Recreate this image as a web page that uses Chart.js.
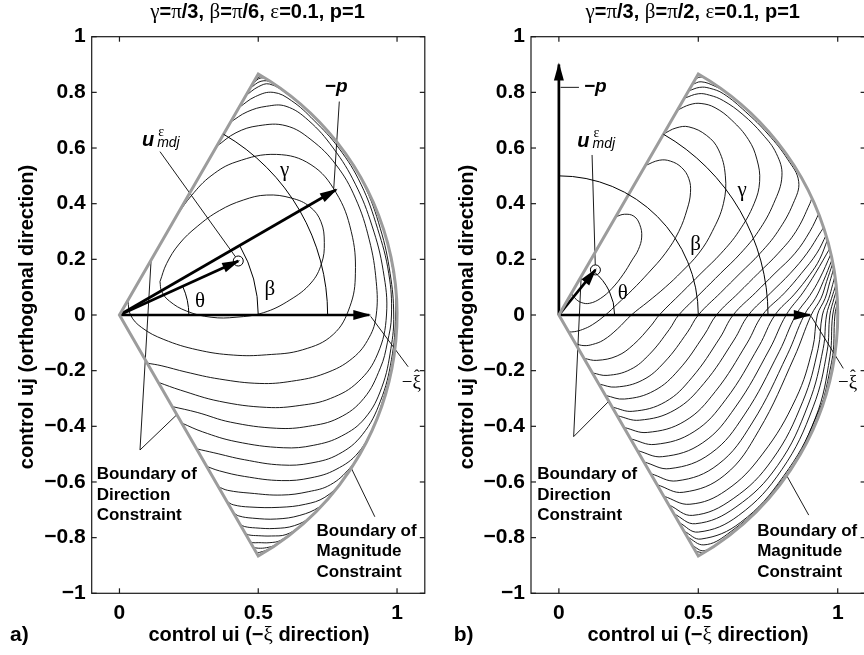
<!DOCTYPE html>
<html>
<head>
<meta charset="utf-8">
<title>Direction and magnitude constrained control</title>
<script src="https://cdn.jsdelivr.net/npm/chart.js@4.4.0/dist/chart.umd.min.js"></script>
<style>
  html, body { margin: 0; padding: 0; background: #fff; overflow: hidden; }
  #figure { position: relative; width: 864px; height: 655px; overflow: hidden; background: #fff; }
  #figure canvas { position: absolute; top: 0; }
</style>
</head>
<body>
<div id="figure">
  <canvas id="panelA" width="432" height="655" style="left:0"></canvas>
  <canvas id="panelB" width="440" height="655" style="left:432px"></canvas>
</div>
<script>
// ---- axes ----
const xTicks = [0, 0.5, 1];
const yTicks = [-1, -0.8, -0.6, -0.4, -0.2, 0, 0.2, 0.4, 0.6, 0.8, 1];
const xRange = [-0.1, 1.1];
const yRange = [-1, 1];

// feasible set: |angle| <= gamma, |u| <= uMax
const gammaDeg = 60;
const uMax = 1;

// ---- panel a: beta = pi/6 ----
const titleA = 'γ=π/3, β=π/6, ε=0.1, p=1';
const minusXiA = [0.9, 0];
const minusPA = [0.78, 0.45];
const uStarA = [0.428, 0.194];
const angleArcsA = [[0.25, 0, 24.4], [0.5, 0, 30], [0.75, 0, 60]];   // radius, from deg, to deg
const leadersA = [
  [[0.146, 0.587], [0.418, 0.209]],
  [[0.792, 0.767], [0.772, 0.455]],
  [[0.905, -0.005], [1.04, -0.186]],
  [[0.114, 0.197], [0.074, -0.485], [0.207, -0.358]],
  [[0.92, -0.725], [0.835, -0.55]]
];
const contoursA = [
  [[0.146,0.12],[0.17,0.185],[0.215,0.255],[0.28,0.318],[0.36,0.375],[0.446,0.413],[0.53,0.431],[0.62,0.42],[0.686,0.389],[0.726,0.335],[0.738,0.26],[0.728,0.185],[0.69,0.115],[0.614,0.054],[0.518,0.008],[0.42,-0.008],[0.33,-0.008],[0.242,0.014],[0.18,0.05],[0.152,0.085],[0.146,0.12]],
  [[0.206,0.357],[0.26,0.43],[0.33,0.5],[0.42,0.55],[0.566,0.577],[0.69,0.54],[0.78,0.44],[0.835,0.3],[0.85,0.15],[0.83,0.03],[0.77,-0.07],[0.66,-0.125],[0.53,-0.143],[0.41,-0.144],[0.28,-0.125],[0.16,-0.088],[0.08,-0.045],[0.04,0.0],[0.03,0.052]],
  [[0.35,0.606],[0.42,0.655],[0.5,0.68],[0.6,0.68],[0.69,0.63],[0.78,0.54],[0.85,0.42],[0.9,0.27],[0.925,0.12],[0.925,0.0],[0.9,-0.08],[0.84,-0.155],[0.74,-0.21],[0.62,-0.238],[0.506,-0.246],[0.36,-0.23],[0.24,-0.205],[0.15,-0.182],[0.1,-0.173]],
  [[0.4,0.693],[0.46,0.73],[0.53,0.75],[0.6,0.75],[0.68,0.7],[0.77,0.6],[0.85,0.47],[0.91,0.32],[0.95,0.16],[0.962,0.0],[0.93,-0.14],[0.86,-0.24],[0.76,-0.3],[0.65,-0.325],[0.53,-0.332],[0.36,-0.31],[0.22,-0.27],[0.14,-0.242]],
  [[0.43,0.745],[0.49,0.785],[0.554,0.8],[0.62,0.77],[0.7,0.7],[0.79,0.6],[0.87,0.47],[0.93,0.31],[0.97,0.15],[0.98,0.0],[0.965,-0.1],[0.94,-0.19],[0.88,-0.3],[0.79,-0.37],[0.68,-0.4],[0.566,-0.407],[0.4,-0.385],[0.28,-0.35],[0.19,-0.329]],
  [[0.455,0.788],[0.5,0.82],[0.54,0.83],[0.6,0.797],[0.7,0.711],[0.8,0.597],[0.88,0.47],[0.94,0.31],[0.975,0.15],[0.988,0.0],[0.978,-0.12],[0.945,-0.26],[0.885,-0.37],[0.8,-0.435],[0.7,-0.468],[0.59,-0.477],[0.42,-0.455],[0.3,-0.42],[0.224,-0.388]],
  [[0.47,0.814],[0.51,0.84],[0.55,0.835],[0.62,0.785],[0.75,0.662],[0.87,0.493],[0.95,0.312],[0.99,0.13],[0.995,0.0],[0.98,-0.16],[0.94,-0.31],[0.875,-0.43],[0.79,-0.5],[0.69,-0.532],[0.584,-0.539],[0.45,-0.52],[0.34,-0.495],[0.278,-0.481]],
  [[0.48,0.831],[0.51,0.852],[0.545,0.84],[0.65,0.76],[0.8,0.6],[0.92,0.392],[0.98,0.19],[0.998,0.0],[0.985,-0.17],[0.95,-0.31],[0.92,-0.39],[0.86,-0.495],[0.78,-0.555],[0.69,-0.585],[0.584,-0.595],[0.45,-0.58],[0.36,-0.56],[0.314,-0.544]],
  [[0.97,-0.24],[0.92,-0.39],[0.88,-0.475],[0.83,-0.55],[0.76,-0.61],[0.68,-0.635],[0.584,-0.647],[0.47,-0.64],[0.39,-0.63],[0.356,-0.617]],
  [[0.9,-0.436],[0.84,-0.542],[0.8,-0.6],[0.74,-0.655],[0.67,-0.68],[0.578,-0.691],[0.47,-0.69],[0.41,-0.682],[0.386,-0.669]],
  [[0.82,-0.572],[0.76,-0.65],[0.72,-0.69],[0.65,-0.72],[0.566,-0.733],[0.48,-0.73],[0.43,-0.722],[0.41,-0.71]],
  [[0.74,-0.672],[0.69,-0.725],[0.63,-0.757],[0.56,-0.767],[0.49,-0.765],[0.45,-0.76],[0.434,-0.752]],
  [[0.68,-0.733],[0.65,-0.76],[0.6,-0.789],[0.548,-0.794],[0.5,-0.793],[0.465,-0.79],[0.452,-0.783]],
  [[0.64,-0.768],[0.58,-0.81],[0.542,-0.818],[0.5,-0.818],[0.478,-0.818],[0.47,-0.814]],
  [[0.59,-0.807],[0.56,-0.827],[0.53,-0.836],[0.5,-0.838],[0.482,-0.835]],
  [[0.56,-0.828],[0.535,-0.843],[0.515,-0.85],[0.494,-0.856]],
  [[0.488,0.845],[0.515,0.858],[0.545,0.838],[0.6,0.8]],
  [[0.494,0.856],[0.51,0.862],[0.53,0.848]]
];

// ---- panel b: beta = pi/2 ----
const titleB = 'γ=π/3, β=π/2, ε=0.1, p=1';
const minusXiB = [0.9, 0];
const minusPB = [0, 0.9];
const uStarB = [0.131, 0.162];
const angleArcsB = [[0.2, 0, 51], [0.5, 0, 90], [0.75, 0, 60]];
const leadersB = [
  [[0.119, 0.575], [0.1305, 0.18]],
  [[0.006, 0.818], [0.072, 0.818]],
  [[0.905, -0.005], [1.02, -0.192]],
  [[0.08, 0.139], [0.053, -0.437], [0.179, -0.31]],
  [[0.896, -0.719], [0.817, -0.577]]
];
const contoursB = [
  [[0.204,0.353],[0.235,0.362],[0.269,0.355],[0.29,0.325],[0.297,0.28],[0.285,0.235],[0.263,0.198],[0.23,0.145],[0.19,0.095],[0.15,0.06],[0.11,0.042],[0.08,0.045],[0.058,0.06],[0.045,0.078]],
  [[0.31,0.537],[0.36,0.556],[0.4,0.553],[0.44,0.53],[0.466,0.49],[0.472,0.44],[0.46,0.38],[0.43,0.3],[0.382,0.222],[0.32,0.15],[0.263,0.09],[0.21,0.04],[0.167,0.0],[0.12,-0.035],[0.085,-0.052],[0.055,-0.06],[0.035,-0.061]],
  [[0.376,0.651],[0.42,0.672],[0.466,0.676],[0.53,0.645],[0.573,0.593],[0.597,0.5],[0.59,0.4],[0.55,0.3],[0.502,0.222],[0.44,0.155],[0.382,0.1],[0.32,0.048],[0.26,0.0],[0.21,-0.05],[0.16,-0.09],[0.12,-0.106],[0.09,-0.11],[0.06,-0.104]],
  [[0.425,0.736],[0.47,0.756],[0.51,0.76],[0.56,0.745],[0.62,0.7],[0.68,0.63],[0.71,0.56],[0.72,0.48],[0.7,0.4],[0.645,0.3],[0.582,0.222],[0.51,0.15],[0.44,0.08],[0.36,0.0],[0.33,-0.039],[0.268,-0.106],[0.209,-0.147],[0.136,-0.163],[0.09,-0.156]],
  [[0.45,0.779],[0.5,0.795],[0.54,0.79],[0.59,0.77],[0.66,0.72],[0.73,0.65],[0.78,0.58],[0.8,0.5],[0.77,0.4],[0.715,0.3],[0.652,0.222],[0.58,0.15],[0.51,0.08],[0.43,0.0],[0.396,-0.052],[0.325,-0.141],[0.256,-0.196],[0.173,-0.217],[0.12,-0.208]],
  [[0.465,0.805],[0.505,0.818],[0.54,0.815],[0.59,0.795],[0.67,0.73],[0.75,0.65],[0.82,0.56],[0.86,0.48],[0.84,0.4],[0.785,0.3],[0.722,0.222],[0.65,0.15],[0.58,0.08],[0.5,0.0],[0.461,-0.062],[0.379,-0.169],[0.3,-0.234],[0.204,-0.259],[0.143,-0.248]],
  [[0.91,0.43],[0.9,0.4],[0.85,0.3],[0.787,0.222],[0.715,0.15],[0.645,0.08],[0.565,0.0],[0.521,-0.072],[0.43,-0.197],[0.342,-0.272],[0.235,-0.302],[0.167,-0.289]],
  [[0.935,0.37],[0.9,0.3],[0.847,0.222],[0.775,0.15],[0.705,0.08],[0.625,0.0],[0.577,-0.083],[0.477,-0.225],[0.382,-0.312],[0.265,-0.346],[0.191,-0.331]],
  [[0.96,0.33],[0.94,0.3],[0.89,0.222],[0.83,0.15],[0.76,0.08],[0.68,0.0],[0.628,-0.09],[0.52,-0.246],[0.416,-0.341],[0.289,-0.378],[0.209,-0.362]],
  [[0.96,0.29],[0.925,0.222],[0.87,0.15],[0.81,0.08],[0.73,0.0],[0.675,-0.101],[0.561,-0.275],[0.452,-0.381],[0.317,-0.422],[0.233,-0.404]],
  [[0.965,0.275],[0.935,0.2],[0.9,0.145],[0.845,0.075],[0.775,0.0],[0.718,-0.111],[0.599,-0.303],[0.485,-0.419],[0.345,-0.465],[0.257,-0.445]],
  [[0.972,0.24],[0.92,0.15],[0.875,0.08],[0.815,0.0],[0.756,-0.122],[0.633,-0.331],[0.516,-0.459],[0.372,-0.509],[0.281,-0.487]],
  [[0.976,0.22],[0.935,0.13],[0.9,0.07],[0.85,0.0],[0.79,-0.132],[0.665,-0.359],[0.545,-0.497],[0.398,-0.552],[0.305,-0.528]],
  [[0.98,0.2],[0.948,0.12],[0.92,0.06],[0.88,0.0],[0.819,-0.143],[0.693,-0.388],[0.571,-0.537],[0.423,-0.596],[0.329,-0.57]],
  [[0.982,0.185],[0.96,0.12],[0.94,0.06],[0.905,0.0],[0.844,-0.152],[0.717,-0.415],[0.595,-0.575],[0.446,-0.637],[0.352,-0.61]],
  [[0.985,0.165],[0.972,0.12],[0.955,0.06],[0.927,0.0],[0.91,-0.12],[0.85,-0.3],[0.73,-0.5],[0.6,-0.63],[0.47,-0.68],[0.376,-0.651]],
  [[0.99,0.14],[0.982,0.11],[0.968,0.06],[0.945,0.0],[0.93,-0.12],[0.875,-0.31],[0.765,-0.52],[0.625,-0.66],[0.48,-0.72],[0.394,-0.682]],
  [[0.994,0.11],[0.978,0.06],[0.96,0.0],[0.948,-0.12],[0.895,-0.32],[0.785,-0.54],[0.635,-0.69],[0.49,-0.75],[0.412,-0.714]],
  [[0.996,0.09],[0.987,0.06],[0.972,0.0],[0.962,-0.13],[0.912,-0.33],[0.8,-0.555],[0.645,-0.72],[0.5,-0.78],[0.43,-0.745]],
  [[0.999,0.07],[0.982,0.0],[0.972,-0.15],[0.92,-0.37],[0.805,-0.58],[0.652,-0.745],[0.51,-0.805],[0.448,-0.776]],
  [[0.999,0.045],[0.99,0.0],[0.978,-0.17],[0.905,-0.42],[0.755,-0.65],[0.605,-0.787],[0.52,-0.826],[0.46,-0.797]],
  [[0.965,-0.27],[0.825,-0.568],[0.7,-0.713],[0.58,-0.813],[0.52,-0.847],[0.478,-0.828]],
  [[0.7,-0.716],[0.6,-0.8],[0.545,-0.838],[0.52,-0.853],[0.49,-0.849]],
  [[0.478,0.828],[0.51,0.838],[0.56,0.822],[0.62,0.79]],
  [[0.49,0.849],[0.512,0.855],[0.545,0.84],[0.6,0.8]]
];

// ---- drawing ----
const SANS = '"Liberation Sans", Arial, Helvetica, sans-serif';
const SERIF = '"Liberation Serif", "Times New Roman", Times, serif';
const D2R = Math.PI / 180;

const panels = {
  panelA: {
    contours: contoursA, leaders: leadersA, arrows: [minusXiA, minusPA, uStarA], uStar: uStarA,
    angleArcs: angleArcsA, yAxisWidth: 91.7, padRight: 7.2,
    title: titleA, titleX: 257.5, xTitleX: 259, yTitleX: 27.5, letter: 'a)', letterX: 10,
    greek: [['γ', 0.595, 0.52], ['β', 0.542, 0.09], ['θ', 0.29, 0.048]],
    uLabel: [0.081, 0.608], pLabel: [0.74, 0.801], xiLabel: [1.017, -0.262],
    dirLabel: [-0.082, -0.59], magLabel: [0.71, -0.794]
  },
  panelB: {
    contours: contoursB, leaders: leadersB, arrows: [minusXiB, minusPB, uStarB], uStar: uStarB,
    angleArcs: angleArcsB, yAxisWidth: 99, padRight: 6.4,
    title: titleB, titleX: 260.7, xTitleX: 266, yTitleX: 35.8, letter: 'b)', letterX: 21.7,
    greek: [['γ', 0.657, 0.449], ['β', 0.49, 0.252], ['θ', 0.229, 0.078]],
    uLabel: [0.066, 0.605], pLabel: [0.09, 0.8], xiLabel: [1.001, -0.262],
    dirLabel: [-0.078, -0.59], magLabel: [0.711, -0.794]
  }
};

function toPx(chart, p) {
  return [chart.scales.x.getPixelForValue(p[0]), chart.scales.y.getPixelForValue(p[1])];
}

function sectorPath(chart) {
  const ctx = chart.ctx;
  const [ox, oy] = toPx(chart, [0, 0]);
  const rx = chart.scales.x.getPixelForValue(uMax) - ox;
  const ry = oy - chart.scales.y.getPixelForValue(uMax);
  const g = gammaDeg * D2R;
  ctx.beginPath();
  ctx.moveTo(ox, oy);
  ctx.lineTo(ox + rx * Math.cos(g), oy - ry * Math.sin(g));
  ctx.ellipse(ox, oy, rx, ry, 0, -g, g);
  ctx.closePath();
}

// greek letters in a thin serif, the rest bold sans
function drawMixed(ctx, str, x, y, size, align) {
  const parts = [];
  for (const ch of str) {
    const greek = /[\u0370-\u03ff]/.test(ch);
    const last = parts[parts.length - 1];
    if (last && last.greek === greek) last.t += ch;
    else parts.push({ t: ch, greek });
  }
  let w = 0;
  parts.forEach(p => {
    p.font = p.greek ? `${size + 1}px ${SERIF}` : `bold ${size}px ${SANS}`;
    ctx.font = p.font;
    p.w = ctx.measureText(p.t).width;
    w += p.w;
  });
  let cx = align === 'center' ? x - w / 2 : x;
  ctx.textAlign = 'left';
  parts.forEach(p => { ctx.font = p.font; ctx.fillText(p.t, cx, y); cx += p.w; });
}

function line(ctx, x1, y1, x2, y2) {
  ctx.beginPath(); ctx.moveTo(x1, y1); ctx.lineTo(x2, y2); ctx.stroke();
}

const figurePlugin = {
  id: 'figure',
  beforeDatasetDraw(chart, args) {
    if (!chart.data.datasets[args.index].inSector) return;
    chart.ctx.save();
    sectorPath(chart);
    chart.ctx.clip();
  },
  afterDatasetDraw(chart, args) {
    if (chart.data.datasets[args.index].inSector) chart.ctx.restore();
  },
  afterDatasetsDraw(chart) {
    const p = panels[chart.canvas.id];
    const ctx = chart.ctx;
    const [ox, oy] = toPx(chart, [0, 0]);
    const sx = chart.scales.x.getPixelForValue(1) - ox;
    const sy = oy - chart.scales.y.getPixelForValue(1);
    ctx.save();

    // constraint boundary
    sectorPath(chart);
    ctx.strokeStyle = '#9c9c9c';
    ctx.lineWidth = 3;
    ctx.lineJoin = 'miter';
    ctx.stroke();

    // angle arcs
    ctx.strokeStyle = '#000';
    ctx.lineWidth = 1;
    p.angleArcs.forEach(([r, a0, a1]) => {
      ctx.beginPath();
      ctx.ellipse(ox, oy, r * sx, r * sy, 0, -a1 * D2R, -a0 * D2R);
      ctx.stroke();
    });

    // arrowheads
    ctx.fillStyle = '#000';
    p.arrows.forEach(tip => {
      const [tx, ty] = toPx(chart, tip);
      const len = Math.hypot(tx - ox, ty - oy);
      const ux = (tx - ox) / len, uy = (ty - oy) / len;
      const ex = tx + ux * 2, ey = ty + uy * 2;
      const bx = ex - ux * 18, by = ey - uy * 18;
      ctx.beginPath();
      ctx.moveTo(ex, ey);
      ctx.lineTo(bx - uy * 5, by + ux * 5);
      ctx.lineTo(bx + uy * 5, by - ux * 5);
      ctx.closePath();
      ctx.fill();
    });

    // minimiser marker
    const [mx, my] = toPx(chart, p.uStar);
    ctx.beginPath();
    ctx.arc(mx, my, 5, 0, Math.PI * 2);
    ctx.lineWidth = 1;
    ctx.stroke();

    // labels
    ctx.fillStyle = '#000';
    ctx.textBaseline = 'middle';
    ctx.textAlign = 'center';
    ctx.font = `21px ${SERIF}`;
    p.greek.forEach(([t, x, y]) => {
      const [gx, gy] = toPx(chart, [x, y]);
      ctx.fillText(t, gx, gy);
    });

    ctx.textBaseline = 'alphabetic';
    ctx.textAlign = 'left';
    ctx.font = `bold 17px ${SANS}`;
    const block = (pos, lines) => {
      const [bx, by] = toPx(chart, pos);
      lines.forEach((t, i) => ctx.fillText(t, bx, by + i * 20.5));
    };
    block(p.dirLabel, ['Boundary of', 'Direction', 'Constraint']);
    block(p.magLabel, ['Boundary of', 'Magnitude', 'Constraint']);

    // u^eps_mdj
    const [lx, ly] = toPx(chart, p.uLabel);
    ctx.font = `italic bold 20px ${SANS}`;
    ctx.fillText('u', lx, ly);
    const uw = ctx.measureText('u').width;
    ctx.font = `14px ${SERIF}`;
    ctx.fillText('ε', lx + uw + 4, ly - 10);
    ctx.font = `italic 14px ${SANS}`;
    ctx.fillText('mdj', lx + uw + 3, ly + 1);

    // -p
    const [qx, qy] = toPx(chart, p.pLabel);
    ctx.font = `italic bold 19px ${SANS}`;
    ctx.fillText('\u2212p', qx, qy);

    // -xi hat
    const [zx, zy] = toPx(chart, p.xiLabel);
    ctx.font = `19px ${SERIF}`;
    ctx.fillText('\u2212', zx, zy);
    const mw = ctx.measureText('\u2212').width;
    ctx.fillText('ξ', zx + mw, zy);
    const xw = ctx.measureText('ξ').width;
    ctx.font = `17px ${SERIF}`;
    ctx.textAlign = 'center';
    ctx.fillText('\u02c6', zx + mw + xw / 2, zy - 7);

    ctx.restore();
  },
  afterDraw(chart) {
    const p = panels[chart.canvas.id];
    const ctx = chart.ctx;
    const { left, right, top, bottom } = chart.chartArea;
    ctx.save();
    ctx.strokeStyle = '#1a1a1a';
    ctx.lineWidth = 1.2;
    ctx.strokeRect(left, top, right - left, bottom - top);
    const tl = 5;
    xTicks.forEach(v => {
      const x = chart.scales.x.getPixelForValue(v);
      line(ctx, x, bottom, x, bottom - tl);
      line(ctx, x, top, x, top + tl);
    });
    yTicks.forEach(v => {
      const y = chart.scales.y.getPixelForValue(v);
      line(ctx, left, y, left + tl, y);
      line(ctx, right, y, right - tl, y);
    });

    ctx.fillStyle = '#000';
    ctx.textBaseline = 'alphabetic';
    drawMixed(ctx, p.title, p.titleX, 18, 20, 'center');
    drawMixed(ctx, 'control ui (\u2212ξ direction)', p.xTitleX, 641, 20, 'center');
    ctx.font = `bold 21px ${SANS}`;
    ctx.textAlign = 'left';
    ctx.fillText(p.letter, p.letterX, 641);

    ctx.translate(p.yTitleX, 317);
    ctx.rotate(-Math.PI / 2);
    ctx.font = `bold 20px ${SANS}`;
    ctx.textAlign = 'center';
    ctx.textBaseline = 'middle';
    ctx.fillText('control uj (orthogonal direction)', 0, 0);
    ctx.restore();
  }
};

const tickLabel = v => {
  if (Math.abs(v) < 1e-9) return '0';
  const s = String(Math.round(Math.abs(v) * 10) / 10);
  return (v < 0 ? '\u2212' : '') + s;
};

function makePanel(id) {
  const p = panels[id];
  const datasets = [];
  p.contours.forEach(c => datasets.push({
    data: c.map(([x, y]) => ({ x, y })), showLine: true, inSector: true,
    borderColor: '#000', borderWidth: 0.9, pointRadius: 0, tension: 0.4
  }));
  p.leaders.forEach(l => datasets.push({
    data: l.map(([x, y]) => ({ x, y })), showLine: true,
    borderColor: '#000', borderWidth: 0.9, pointRadius: 0, tension: 0
  }));
  p.arrows.forEach(t => datasets.push({
    data: [{ x: 0, y: 0 }, { x: t[0], y: t[1] }], showLine: true,
    borderColor: '#000', borderWidth: 2.7, borderCapStyle: 'butt', pointRadius: 0, tension: 0
  }));

  const tickFont = { family: SANS, size: 21, weight: 'bold' };
  return new Chart(document.getElementById(id), {
    type: 'scatter',
    data: { datasets },
    options: {
      responsive: false,
      animation: false,
      events: [],
      layout: { padding: { top: 36.7, right: p.padRight, left: 0, bottom: 0 } },
      plugins: { legend: { display: false }, tooltip: { enabled: false } },
      scales: {
        x: {
          type: 'linear', min: xRange[0], max: xRange[1],
          grid: { display: false, drawTicks: false }, border: { display: false },
          ticks: { font: tickFont, color: '#000', padding: 7, autoSkip: false, maxRotation: 0, callback: tickLabel },
          afterBuildTicks: s => { s.ticks = xTicks.map(value => ({ value })); },
          afterFit: s => { s.height = 61.7; }
        },
        y: {
          type: 'linear', min: yRange[0], max: yRange[1],
          grid: { display: false, drawTicks: false }, border: { display: false },
          ticks: { font: tickFont, color: '#000', padding: 6, autoSkip: false, callback: tickLabel },
          afterBuildTicks: s => { s.ticks = yTicks.map(value => ({ value })); },
          afterFit: s => { s.width = p.yAxisWidth; }
        }
      }
    },
    plugins: [figurePlugin]
  });
}

makePanel('panelA');
makePanel('panelB');
</script>
</body>
</html>
